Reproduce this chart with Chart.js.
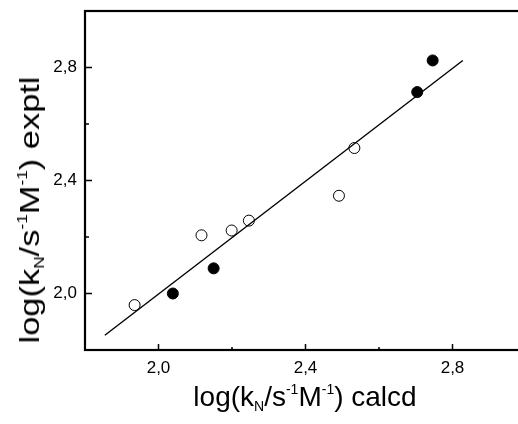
<!DOCTYPE html>
<html>
<head>
<meta charset="utf-8">
<script src="https://cdn.jsdelivr.net/npm/chart.js@4/dist/chart.umd.min.js"></script>
<style>
  html, body { margin: 0; padding: 0; background: #fff; overflow: hidden; width: 518px; height: 424px; }
  #wrap { position: relative; width: 518px; height: 424px; }
  canvas { position: absolute; left: 0; top: 0; }
  .ttl { position: absolute; font-family: "Liberation Sans", Arial, sans-serif; color: #000; white-space: nowrap; line-height: 1; }
  .ttl sub, .ttl sup { font-size: 0.5em; line-height: 0; }
  .ttl sup { vertical-align: 0.85em; }
  .ttl sub { vertical-align: -0.35em; }
  #xt { font-size: 28px; left: 305px; top: 383px; transform: translateX(-50%); }
  #yt { font-size: 28px; left: 30px; top: 210px; transform: translate(-50%, -50%) rotate(-90deg) scaleX(1.23); }
</style>
</head>
<body>
<div id="wrap">
  <canvas id="c" width="540" height="424"></canvas>
  <div class="ttl" id="xt">log(k<sub>N</sub>/s<sup>-1</sup>M<sup>-1</sup>) calcd</div>
  <div class="ttl" id="yt">log(k<sub>N</sub>/s<sup>-1</sup>M<sup>-1</sup>) exptl</div>
</div>
<script>
// data
var openX = [1.935, 2.117, 2.199, 2.246, 2.491, 2.533];
var openY = [1.959, 2.206, 2.223, 2.258, 2.346, 2.515];
var fillX = [2.039, 2.150, 2.704, 2.746];
var fillY = [2.000, 2.089, 2.713, 2.825];
var fitX = [1.854, 2.828];
var fitY = [1.852, 2.825];
var majorTicks = [2.0, 2.4, 2.8];
var minorTicks = [2.2, 2.6];

function pts(xs, ys){
  var out = [];
  for (var i = 0; i < xs.length; i++){ out.push({x: xs[i], y: ys[i]}); }
  return out;
}
function lbl(v){ return v.toFixed(1).replace('.', ','); }

// frame + inward ticks
var framePlugin = {
  id: 'frame',
  afterDraw: function(chart){
    var ctx = chart.ctx, a = chart.chartArea;
    var xs = chart.scales.x, ys = chart.scales.y;
    ctx.save();
    ctx.strokeStyle = '#000';
    ctx.lineWidth = 1.5;
    ctx.beginPath();
    majorTicks.forEach(function(v){
      var px = xs.getPixelForValue(v);
      ctx.moveTo(px, a.bottom); ctx.lineTo(px, a.bottom - 6);
      var py = ys.getPixelForValue(v);
      ctx.moveTo(a.left, py); ctx.lineTo(a.left + 7, py);
    });
    minorTicks.forEach(function(v){
      var px = xs.getPixelForValue(v);
      ctx.moveTo(px, a.bottom); ctx.lineTo(px, a.bottom - 3);
      var py = ys.getPixelForValue(v);
      ctx.moveTo(a.left, py); ctx.lineTo(a.left + 4, py);
    });
    ctx.stroke();
    ctx.lineWidth = 2.2;
    ctx.strokeRect(a.left, a.top, a.right - a.left, a.bottom - a.top);
    ctx.restore();
  }
};

var tickFont = {family: '"Liberation Sans", Arial, sans-serif', size: 17};

var myChart = new Chart(document.getElementById('c').getContext('2d'), {
  type: 'scatter',
  data: {
    datasets: [
      {
        type: 'line',
        data: pts(fitX, fitY),
        borderColor: '#000',
        borderWidth: 1.4,
        pointRadius: 0,
        fill: false
      },
      {
        data: pts(openX, openY),
        pointStyle: 'circle',
        pointRadius: 5.5,
        backgroundColor: '#fff',
        borderColor: '#000',
        borderWidth: 1
      },
      {
        data: pts(fillX, fillY),
        pointStyle: 'circle',
        pointRadius: 5.5,
        backgroundColor: '#000',
        borderColor: '#000',
        borderWidth: 1
      }
    ]
  },
  options: {
    responsive: false,
    animation: false,
    devicePixelRatio: 1,
    layout: { padding: { top: 11, right: 14, left: 0, bottom: 0 } },
    plugins: { legend: { display: false }, tooltip: { enabled: false } },
    scales: {
      x: {
        type: 'linear', min: 1.8, max: 3.0,
        grid: { display: false, drawTicks: false },
        border: { display: false },
        afterBuildTicks: function(s){ s.ticks = majorTicks.map(function(v){ return {value: v}; }); },
        afterFit: function(s){ s.height = 74; s.paddingLeft = 0; s.paddingRight = 0; },
        ticks: { color: '#000', font: tickFont, padding: 8, maxRotation: 0, callback: function(v){ return lbl(v); } }
      },
      y: {
        type: 'linear', min: 1.8, max: 3.0,
        grid: { display: false, drawTicks: false },
        border: { display: false },
        afterBuildTicks: function(s){ s.ticks = majorTicks.map(function(v){ return {value: v}; }); },
        afterFit: function(s){ s.width = 85; s.paddingTop = 0; s.paddingBottom = 0; },
        ticks: { color: '#000', font: tickFont, padding: 8, callback: function(v){ return lbl(v); } }
      }
    }
  },
  plugins: [framePlugin]
});
</script>
</body>
</html>
